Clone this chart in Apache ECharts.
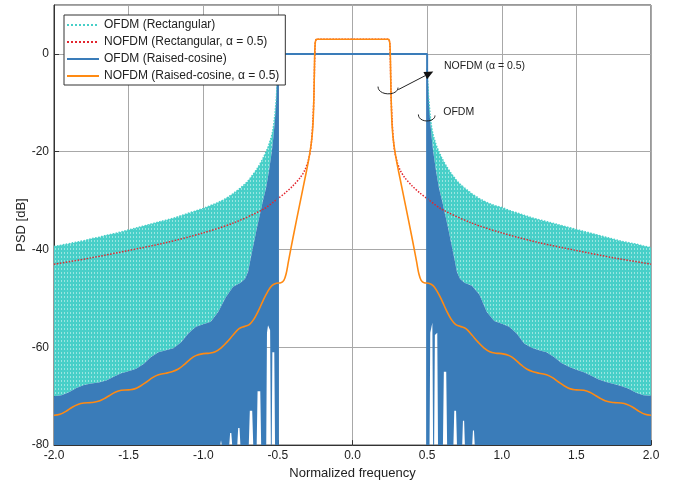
<!DOCTYPE html>
<html><head><meta charset="utf-8">
<script src="https://cdn.jsdelivr.net/npm/echarts@6/dist/echarts.min.js"></script>
<style>html,body{margin:0;padding:0;background:#fff}#c{width:683px;height:485px}</style>
</head><body><div id="c"></div>
<script>
// ---------- data ----------
// OFDM (raised-cosine) upper envelope and OFDM (rectangular) upper envelope, left side
const freqL = [-2.00,-1.95,-1.90,-1.85,-1.80,-1.75,-1.70,-1.65,-1.60,-1.55,-1.50,-1.45,-1.40,-1.35,-1.30,-1.25,-1.20,-1.15,-1.10,-1.05,-1.00,-0.95,-0.90,-0.85,-0.80,-0.75,-0.72,-0.70,-0.68,-0.66,-0.64,-0.62,-0.60,-0.58,-0.56,-0.54,-0.53,-0.52,-0.51,-0.505,-0.50];
const blueUpL = [-70.0,-69.8,-69.2,-68.3,-67.7,-67.4,-67.2,-66.8,-66.0,-65.3,-64.9,-64.4,-63.4,-62.0,-61.0,-60.6,-60.2,-59.0,-57.2,-55.8,-55.3,-54.8,-52.8,-49.8,-47.6,-46.8,-46.0,-44.6,-41.5,-38.5,-35.5,-32.8,-30.0,-27.5,-24.0,-19.8,-17.0,-13.5,-8.5,-5.0,0.0];
const tealUpL = [-39.4,-39.1,-38.8,-38.5,-38.2,-37.8,-37.5,-37.1,-36.8,-36.4,-36.0,-35.6,-35.2,-34.8,-34.4,-34.0,-33.6,-33.1,-32.6,-32.1,-31.6,-31.0,-30.4,-29.6,-28.6,-27.4,-26.6,-26.0,-25.2,-24.4,-23.5,-22.5,-21.4,-20.1,-18.6,-16.6,-15.0,-12.5,-9.0,-6.5,-3.0];
// right side
const freqR = [0.50,0.505,0.51,0.52,0.53,0.54,0.56,0.58,0.60,0.62,0.64,0.66,0.68,0.70,0.72,0.75,0.80,0.85,0.90,0.95,1.00,1.05,1.10,1.15,1.20,1.25,1.30,1.35,1.40,1.45,1.50,1.55,1.60,1.65,1.70,1.75,1.80,1.85,1.90,1.95,2.00];
const blueUpR = [0.0,-5.0,-8.5,-13.5,-17.0,-19.8,-24.0,-27.5,-30.0,-32.8,-35.5,-38.5,-41.5,-44.6,-46.0,-46.8,-47.4,-49.2,-52.8,-54.6,-55.2,-55.8,-57.2,-59.2,-60.1,-60.6,-61.0,-62.0,-63.2,-64.0,-64.6,-65.1,-65.8,-66.6,-67.1,-67.5,-67.9,-68.5,-69.3,-69.8,-69.9];
const tealUpR = [-3.0,-6.5,-9.0,-12.5,-15.0,-16.6,-18.6,-20.1,-21.4,-22.5,-23.5,-24.4,-25.2,-26.0,-26.6,-27.4,-28.6,-29.6,-30.4,-31.0,-31.4,-32.0,-32.5,-33.0,-33.5,-33.9,-34.3,-34.7,-35.1,-35.5,-35.9,-36.3,-36.7,-37.1,-37.5,-37.9,-38.3,-38.6,-38.9,-39.3,-39.6];
// lower edge of the raised-cosine OFDM trace (nulls reach the -80 floor, gaps near the band edge)
const blueLowFL = [-2.0,-0.886,-0.881,-0.876,-0.826,-0.82,-0.812,-0.806,-0.772,-0.766,-0.757,-0.751,-0.695,-0.688,-0.672,-0.665,-0.642,-0.636,-0.618,-0.612,-0.578,-0.573,-0.566,-0.552,-0.547,-0.541,-0.537,-0.524,-0.519,-0.50];
const blueLowL  = [-80,-80,-79,-80,-80,-77.5,-77.5,-80,-80,-76.5,-76.5,-80,-80,-73,-73,-80,-80,-69,-69,-80,-80,-57,-55.5,-56.5,-80,-80,-61,-61,-80,-80];
const blueLowFR = [0.50,0.516,0.521,0.535,0.54,0.547,0.552,0.568,0.573,0.606,0.612,0.628,0.634,0.676,0.682,0.694,0.70,0.735,0.74,0.748,0.753,0.802,0.807,0.814,0.819,2.0];
const blueLowR  = [-80,-80,-57,-55,-80,-80,-57.5,-57,-80,-80,-65,-65,-80,-80,-73,-73,-80,-80,-75,-75,-80,-80,-77,-77,-80,-80];
// OFDM (raised-cosine) in-band level
const blueFlatF = [-0.5,-0.5,0.5,0.5];
const blueFlatV = [-80,0,0,-80];
// NOFDM (rectangular, alpha = 0.5)
const redF = [-2.0,-1.75,-1.5,-1.25,-1.0,-0.8,-0.6,-0.5,-0.45,-0.4,-0.35,-0.32,-0.3,-0.285,-0.275,-0.265,-0.258,-0.254,-0.25,-0.245,-0.24,0.24,0.245,0.25,0.254,0.258,0.265,0.275,0.285,0.3,0.32,0.35,0.4,0.45,0.5,0.6,0.8,1.0,1.25,1.5,1.75,2.0];
const redV = [-43.0,-41.7,-40.2,-38.6,-36.6,-34.6,-31.8,-29.6,-28.4,-27.0,-25.3,-23.8,-22.2,-20.3,-18.0,-13.5,-8.0,-2.0,2.0,2.9,3.0,3.0,2.9,2.0,-2.0,-8.0,-13.5,-18.0,-20.3,-22.2,-23.8,-25.3,-27.0,-28.4,-29.6,-31.8,-34.6,-36.6,-38.6,-40.2,-41.7,-43.0];
// NOFDM (raised-cosine, alpha = 0.5)
const orangeF = [-2.00,-1.96,-1.92,-1.88,-1.84,-1.80,-1.75,-1.71,-1.67,-1.63,-1.59,-1.55,-1.50,-1.46,-1.42,-1.38,-1.34,-1.30,-1.25,-1.21,-1.17,-1.13,-1.09,-1.05,-1.00,-0.96,-0.92,-0.88,-0.84,-0.80,-0.76,-0.72,-0.69,-0.66,-0.63,-0.60,-0.57,-0.54,-0.51,-0.48,-0.46,-0.445,-0.43,-0.40,-0.35,-0.31,-0.29,-0.275,-0.265,-0.258,-0.254,-0.25,-0.245,-0.24,
  0.24,0.245,0.25,0.254,0.258,0.265,0.275,0.29,0.31,0.35,0.40,0.43,0.445,0.46,0.48,0.51,0.54,0.57,0.60,0.63,0.66,0.69,0.72,0.76,0.80,0.84,0.88,0.92,0.96,1.00,1.05,1.09,1.13,1.17,1.21,1.25,1.30,1.34,1.38,1.42,1.46,1.50,1.55,1.59,1.63,1.67,1.71,1.75,1.80,1.84,1.88,1.92,1.96,2.00];
const orangeV = [-73.9,-73.7,-73.1,-72.3,-71.7,-71.4,-71.3,-71.1,-70.6,-69.9,-69.2,-68.8,-68.7,-68.5,-67.9,-67.1,-66.2,-65.6,-65.3,-65.0,-64.5,-63.6,-62.5,-61.7,-61.3,-61.2,-60.9,-60.1,-58.9,-57.5,-56.2,-55.7,-55.3,-54.2,-52.5,-50.5,-48.7,-47.4,-46.9,-46.8,-46.3,-45.0,-42.6,-37.8,-30.2,-24.2,-21.0,-18.0,-14.5,-8.0,-1.0,2.2,2.9,3.0,
  3.0,2.9,2.2,-1.0,-8.0,-14.5,-18.0,-21.0,-24.2,-30.2,-37.8,-42.6,-45.0,-46.3,-46.8,-46.9,-47.4,-48.7,-50.5,-52.5,-54.2,-55.3,-55.7,-56.2,-57.5,-58.9,-60.1,-60.9,-61.2,-61.3,-61.7,-62.5,-63.6,-64.5,-65.0,-65.3,-65.6,-66.2,-67.1,-67.9,-68.5,-68.7,-68.8,-69.2,-69.9,-70.6,-71.1,-71.3,-71.4,-71.7,-72.3,-73.1,-73.7,-73.9];

const seriesNames = ['OFDM (Rectangular)','NOFDM (Rectangular, α = 0.5)','OFDM (Raised-cosine)','NOFDM (Raised-cosine, α = 0.5)'];
const xMin=-2, xMax=2, xStep=0.5, yMin=-80, yMax=10, yStep=20;

// annotations (data coordinates)
const annNofdmText = {f:0.613, d:-2.5, text:'NOFDM (α = 0.5)'};
const annOfdmText  = {f:0.608, d:-12.0, text:'OFDM'};
const annArrowFrom = [0.307,-7.3], annArrowTo = [0.541,-3.6];
const annArc1 = [0.238,-7.3], annArc2 = [0.497,-13.0];

// ---------- styles ----------
const TEAL='#48cfc8', RED='#e2262f', BLUE='#3a7cb9', ORANGE='#ff8a12';
const FONT='Liberation Sans, Arial, sans-serif';
const pc=document.createElement('canvas'); pc.width=3; pc.height=4;
const g=pc.getContext('2d'); g.fillStyle=TEAL; g.fillRect(0,0,3,4);
g.fillStyle='rgba(255,255,255,0.45)'; g.fillRect(1,0,1,2);
const tealFill={image:pc, repeat:'repeat'};

const zip=(a,b)=>a.map((v,i)=>[v,b[i]]);
function band(upF,upV,loF,loV,fill){
  return {type:'custom', silent:true, clip:true, data:[[upF[0],upV[0]]],
    renderItem:(params,api)=>{
      const pts=[];
      for(let i=0;i<upF.length;i++) pts.push(api.coord([upF[i],upV[i]]));
      for(let i=loF.length-1;i>=0;i--) pts.push(api.coord([loF[i],loV[i]]));
      return {type:'polygon', shape:{points:pts}, style:{fill:fill, stroke:null}};
    }};
}
const chart=echarts.init(document.getElementById('c'));
chart.setOption({
  animation:false,
  textStyle:{fontFamily:FONT},
  grid:{left:54,right:32,top:5,bottom:38,show:true,borderColor:'#333',borderWidth:1},
  legend:{data:seriesNames, orient:'vertical', left:64, top:15, itemWidth:32, itemHeight:13, itemGap:5,
    backgroundColor:'#fff', borderColor:'#333', borderWidth:1, padding:[4,6,3,2],
    itemStyle:{opacity:0},
    textStyle:{fontSize:12,color:'#222',fontFamily:FONT}, z:20},
  xAxis:{type:'value',min:xMin,max:xMax,interval:xStep,name:'Normalized frequency',nameLocation:'middle',nameGap:19,
    nameTextStyle:{fontSize:13,color:'#222'},
    axisLine:{show:true,onZero:false,lineStyle:{color:'#333'}}, axisTick:{show:true,inside:true,length:5,lineStyle:{color:'#333'}},
    axisLabel:{fontSize:12,color:'#222',margin:5,formatter:v=>v.toFixed(1)},
    splitLine:{show:true,lineStyle:{color:'#a8a8a8',width:1}}},
  yAxis:{type:'value',min:yMin,max:yMax,interval:yStep,name:'PSD [dB]',nameLocation:'middle',nameGap:26,nameRotate:90,
    nameMoveOverlap:false,
    nameTextStyle:{fontSize:13,color:'#222'},
    axisLine:{show:true,onZero:false,lineStyle:{color:'#333'}}, axisTick:{show:true,inside:true,length:5,lineStyle:{color:'#333'}},
    axisLabel:{fontSize:12,color:'#222',margin:5,showMaxLabel:false,formatter:v=>(v>0?'':String(v))},
    splitLine:{show:true,lineStyle:{color:'#a8a8a8',width:1}}},
  series:[
    band(freqL,tealUpL,freqL,blueUpL,tealFill),
    band(freqR,tealUpR,freqR,blueUpR,tealFill),
    {name:seriesNames[0],type:'line',symbol:'none',data:zip(freqL,tealUpL),lineStyle:{color:TEAL,width:1.5,type:'dotted'},itemStyle:{color:TEAL}},
    {name:seriesNames[0],type:'line',symbol:'none',data:zip(freqR,tealUpR),lineStyle:{color:TEAL,width:1.5,type:'dotted'},itemStyle:{color:TEAL}},
    {name:seriesNames[1],type:'line',symbol:'none',smooth:0.3,data:zip(redF,redV),lineStyle:{color:RED,width:1.5,type:'dotted'},itemStyle:{color:RED}},
    band(freqL,blueUpL,blueLowFL,blueLowL,BLUE),
    band(freqR,blueUpR,blueLowFR,blueLowR,BLUE),
    {name:seriesNames[2],type:'line',symbol:'none',data:zip(blueFlatF,blueFlatV),lineStyle:{color:BLUE,width:2},itemStyle:{color:BLUE}},
    {name:seriesNames[3],type:'line',symbol:'none',smooth:0.4,data:zip(orangeF,orangeV),lineStyle:{color:ORANGE,width:1.6},itemStyle:{color:ORANGE}}
  ]
});

// ---------- annotations ----------
const P=(f,d)=>chart.convertToPixel({gridIndex:0},[f,d]);
function arcEl(c,hw,dep){
  const p=P(c[0],c[1]);
  return {type:'bezierCurve',shape:{x1:p[0]-hw,y1:p[1]-3,cpx1:p[0]-hw,cpy1:p[1]+dep,cpx2:p[0]+hw,cpy2:p[1]+dep,x2:p[0]+hw,y2:p[1]-2},
    style:{stroke:'#222',lineWidth:1,fill:null},z:30};
}
const a0=P(annArrowFrom[0],annArrowFrom[1]), a1=P(annArrowTo[0],annArrowTo[1]);
const dx=a1[0]-a0[0], dy=a1[1]-a0[1], L=Math.hypot(dx,dy), ux=dx/L, uy=dy/L;
const hl=9, hw=4;
const base=[a1[0]-ux*hl,a1[1]-uy*hl];
const t1=P(annNofdmText.f,annNofdmText.d), t2=P(annOfdmText.f,annOfdmText.d);
chart.setOption({graphic:[
  {type:'line',shape:{x1:a0[0],y1:a0[1],x2:base[0],y2:base[1]},style:{stroke:'#222',lineWidth:1},z:30},
  {type:'polygon',shape:{points:[a1,[base[0]-uy*hw,base[1]+ux*hw],[base[0]+uy*hw,base[1]-ux*hw]]},style:{fill:'#111'},z:30},
  arcEl(annArc1,10,6.5),
  arcEl(annArc2,8.3,5.5),
  {type:'text',x:t1[0],y:t1[1],style:{text:annNofdmText.text,font:'10.5px '+FONT,fill:'#222',verticalAlign:'middle'},z:30},
  {type:'text',x:t2[0],y:t2[1],style:{text:annOfdmText.text,font:'10.5px '+FONT,fill:'#222',verticalAlign:'middle'},z:30}
]});
</script></body></html>
